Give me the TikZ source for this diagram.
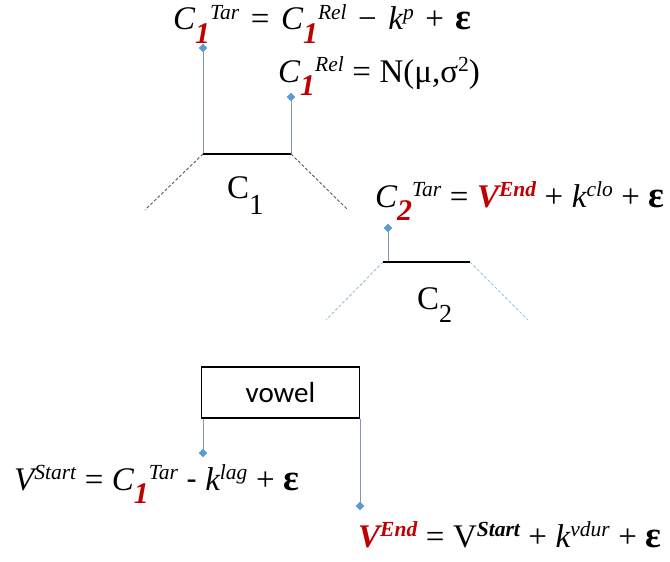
\documentclass[tikz,border=0pt]{standalone}
\usepackage{fontspec}
\setmainfont{Liberation Serif}
\newfontfamily\calib{Carlito}
\usetikzlibrary{shapes.geometric}
\definecolor{myred}{HTML}{C00000}
\definecolor{pinblue}{HTML}{5B9BD5}
\definecolor{stemcol}{HTML}{8497B0}
\definecolor{dashblue}{HTML}{9DC3E6}
\definecolor{dashgray}{HTML}{595959}
\newcommand\dnr[1]{\raisebox{-0.4em}{\textcolor{myred}{\fontsize{30}{30}\selectfont\bfseries\itshape #1}}}
\newcommand\upi[1]{\raisebox{0.31em}{\fontsize{21.5}{21.5}\selectfont\itshape #1}}
\newcommand\upb[1]{\raisebox{0.31em}{\fontsize{21.5}{21.5}\selectfont\bfseries\itshape #1}}
\newcommand\upn[1]{\raisebox{0.31em}{\fontsize{21.5}{21.5}\selectfont #1}}
\newcommand\gp{\hspace{0.35em}}
\newcommand\gq{\hspace{0.26em}}
\newcommand\eps{{\upshape\bfseries\fontsize{37}{37}\selectfont ε}}
\tikzset{
  eqn/.style={inner sep=0pt, anchor=base west, font=\fontsize{33}{33}\selectfont},
  lbl/.style={inner sep=0pt, anchor=base west, font=\fontsize{33}{33}\selectfont},
  pin/.style={diamond, fill=pinblue, inner sep=0pt, minimum size=8pt},
  stem/.style={draw=stemcol, line width=1pt},
  bar/.style={draw=black},
  dashg/.style={draw=dashgray, line width=0.9pt, dash pattern=on 3pt off 2pt},
  dashb/.style={draw=dashblue, line width=1pt, dash pattern=on 3pt off 2pt},
  vbox/.style={draw=black, line width=1.4pt, minimum width=158pt, minimum height=51pt, inner sep=0pt, font=\calib\fontsize{29}{29}\selectfont}
}
\begin{document}
\begin{tikzpicture}[x=1pt,y=-1pt]
\useasboundingbox (0,0) rectangle (670,562);
% equations
\node[eqn] (eq1) at (173,30) {\itshape C\dnr{1}\upi{Tar}\gp{\upshape=}\gp C\dnr{1}\upi{Rel}\gp{\upshape −}\gp k\upi{p}\gp{\upshape +}\gp\eps};
\node[eqn] (eq2) at (278,82) {\itshape C\dnr{1}\upi{Rel}\gq{\upshape =\gq N(μ,σ\upn{2})}};
\node[eqn] (eq3) at (375,207) {\itshape C\dnr{2}\upi{Tar}\gq{\upshape=}\gq\textcolor{myred}{\bfseries V\upb{End}}\gq{\upshape +}\gq k\upi{clo}\gq{\upshape +}\gq\eps};
\node[eqn] (eq4) at (14,490) {\itshape V\upi{Start}\gq{\upshape=}\gq C\dnr{1}\upi{Tar}\gq{\upshape\calib -}\gq k\upi{lag}\gq{\upshape +}\gq\eps};
\node[eqn] (eq5) at (358,547) {\textcolor{myred}{\bfseries\itshape V\upb{End}}\gq=\gq V\upb{Start}\gq+\gq{\itshape k\upi{vdur}}\gq+\gq\eps};
% labels
\node[lbl] (c1) at (227,198) {C\raisebox{-0.5em}{\fontsize{29}{29}\selectfont 1}};
\node[lbl] (c2) at (417,309) {C\raisebox{-0.42em}{\fontsize{26}{26}\selectfont 2}};
% vowel box
\node[vbox] (vowel) at (280.5,392.5) {vowel};
% pins
\node[pin] (p1) at (203,48) {};
\node[pin] (p2) at (291,97) {};
\node[pin] (p3) at (388,228) {};
\node[pin] (p4) at (203,453) {};
\node[pin] (p5) at (360,506) {};
% C1 geometry
\coordinate (a1) at (203,154);
\coordinate (b1) at (291,154);
\coordinate (a1l) at (145,210);
\coordinate (b1r) at (348,210);
% C2 geometry
\coordinate (a2) at (383,262);
\coordinate (b2) at (470,262);
\coordinate (s2) at (388,262);
\coordinate (a2l) at (326,320);
\coordinate (b2r) at (528,320);
% connectors
\draw[dashg] (a1) -- (a1l);
\draw[dashg] (b1) -- (b1r);
\draw[stem] (p1.center) -- (a1);
\draw[stem] (p2.center) -- (b1);
\draw[bar, line width=2.8pt] (a1) -- (b1);
\draw[dashb] (a2) -- (a2l);
\draw[dashb] (b2) -- (b2r);
\draw[stem] (p3.center) -- (s2);
\draw[bar, line width=1.8pt] (a2) -- (b2);
\draw[stem] (p4.center) -- (p4 |- vowel.south);
\draw[stem] (p5.center) -- (p5 |- vowel.south);
% redraw pins on top
\foreach \p in {p1,p2,p3,p4,p5} \fill[pinblue] (\p.north) -- (\p.east) -- (\p.south) -- (\p.west) -- cycle;
\end{tikzpicture}
\end{document}
